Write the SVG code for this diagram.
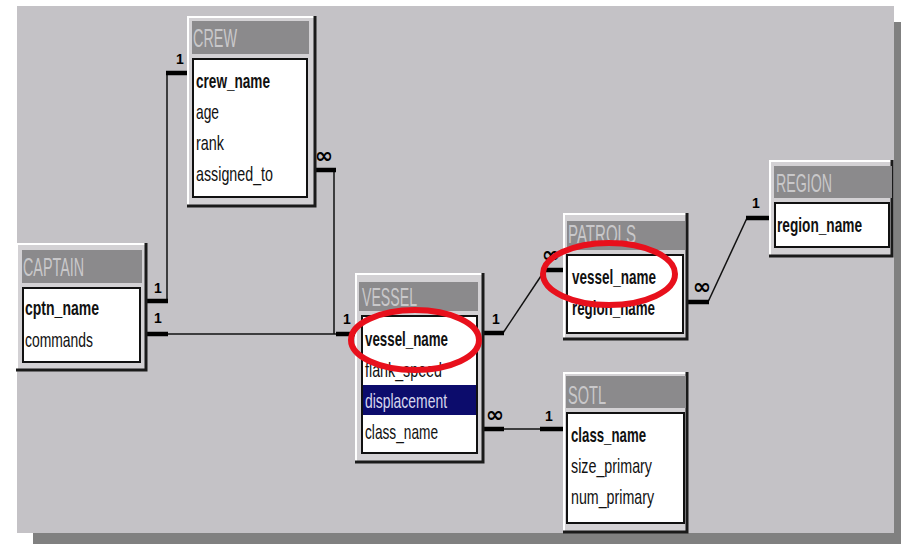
<svg xmlns="http://www.w3.org/2000/svg" width="902" height="544" viewBox="0 0 902 544">
  <style>
    .frame { fill: #d3d1d4; }
    .hi { fill: none; stroke: #ffffff; stroke-width: 2; }
    .lo { fill: none; stroke: #1a1a1a; stroke-width: 3; }
    .bar { fill: #8b8a8c; }
    .title { font-family: "Liberation Sans", Arial, sans-serif; font-size: 25px; fill: #c9c8ca; }
    .list { fill: #ffffff; stroke: #111111; stroke-width: 2; }
    .f { font-family: "Liberation Sans", Arial, sans-serif; font-size: 21px; fill: #111111; }
    .k { font-weight: bold; }
    .sel { fill: #0c0c6c; }
    .selt { fill: #d6d6ee; }
    .wire { fill: none; stroke: #111111; stroke-width: 1.5; }
    .end { fill: none; stroke: #000000; stroke-width: 4.5; }
    .card { font-family: "Liberation Sans", Arial, sans-serif; font-weight: bold; font-size: 14px; fill: #000000; text-anchor: middle; }
    .many { font-family: "DejaVu Sans", sans-serif; font-weight: bold; font-size: 22px; fill: #000000; text-anchor: middle; }
    .ring { fill: none; stroke: #e8101c; stroke-width: 6; }
  </style>

  <!-- workspace panel with drop shadow -->
  <rect x="0" y="0" width="902" height="544" fill="#ffffff"/>
  <rect x="33" y="22" width="868" height="522" fill="#808080"/>
  <rect x="17" y="6" width="877" height="527" fill="#c4c2c6"/>

  <!-- relationship lines -->
  <g id="connectors">
    <!-- CAPTAIN 1 — 1 CREW -->
    <polyline class="wire" points="167,301 167,73"/>
    <line class="end" x1="147" y1="301" x2="168" y2="301"/>
    <line class="end" x1="166" y1="73" x2="188" y2="73"/>
    <text class="card" x="158" y="293">1</text>
    <text class="card" x="180" y="64">1</text>
    <!-- CAPTAIN 1 — 1 VESSEL -->
    <line class="wire" x1="167" y1="334" x2="337" y2="334"/>
    <line class="end" x1="147" y1="334" x2="168" y2="334"/>
    <line class="end" x1="336" y1="334" x2="356" y2="334"/>
    <text class="card" x="158" y="323">1</text>
    <text class="card" x="347" y="324">1</text>
    <!-- CREW ∞ — VESSEL -->
    <polyline class="wire" points="334,170 334,334"/>
    <line class="end" x1="315" y1="170" x2="336" y2="170"/>
    <text class="many" x="324" y="163">∞</text>
    <!-- VESSEL 1 — ∞ PATROLS -->
    <line class="wire" x1="503" y1="333" x2="545" y2="270"/>
    <line class="end" x1="483" y1="333" x2="504" y2="333"/>
    <line class="end" x1="544" y1="270" x2="564" y2="270"/>
    <text class="card" x="496" y="324">1</text>
    <text class="many" x="551" y="262">∞</text>
    <!-- VESSEL ∞ — 1 SOTL -->
    <line class="wire" x1="503" y1="429" x2="541" y2="429"/>
    <line class="end" x1="483" y1="429" x2="504" y2="429"/>
    <line class="end" x1="540" y1="429" x2="564" y2="429"/>
    <text class="many" x="495" y="422">∞</text>
    <text class="card" x="549" y="421">1</text>
    <!-- PATROLS ∞ — 1 REGION -->
    <line class="wire" x1="708" y1="302" x2="747" y2="218"/>
    <line class="end" x1="687" y1="302" x2="709" y2="302"/>
    <line class="end" x1="746" y1="218" x2="770" y2="218"/>
    <text class="many" x="702" y="294">∞</text>
    <text class="card" x="756" y="208">1</text>
  </g>

  <!-- CREW table -->
  <g id="crew">
    <rect class="frame" x="187" y="16" width="129" height="191"/>
    <polyline class="hi" points="188,206 188,17 315,17"/>
    <polyline class="lo" points="315,16 315,206 187,206"/>
    <rect class="bar" x="192" y="21" width="117" height="33"/>
    <text class="title" x="193" y="47" textLength="44" lengthAdjust="spacingAndGlyphs">CREW</text>
    <rect class="list" x="193" y="59" width="114" height="138"/>
    <text class="f k" x="196" y="88" textLength="74" lengthAdjust="spacingAndGlyphs">crew_name</text>
    <text class="f" x="196" y="119" textLength="23" lengthAdjust="spacingAndGlyphs">age</text>
    <text class="f" x="196" y="150" textLength="28" lengthAdjust="spacingAndGlyphs">rank</text>
    <text class="f" x="196" y="181" textLength="77" lengthAdjust="spacingAndGlyphs">assigned_to</text>
  </g>

  <!-- CAPTAIN table -->
  <g id="captain">
    <rect class="frame" x="16" y="243" width="131" height="128"/>
    <polyline class="hi" points="17,370 17,244 146,244"/>
    <polyline class="lo" points="146,243 146,370 16,370"/>
    <rect class="bar" x="22" y="250" width="120" height="33"/>
    <text class="title" x="23" y="276" textLength="61" lengthAdjust="spacingAndGlyphs">CAPTAIN</text>
    <rect class="list" x="23" y="288" width="117" height="74"/>
    <text class="f k" x="25" y="315" textLength="74" lengthAdjust="spacingAndGlyphs">cptn_name</text>
    <text class="f" x="25" y="347" textLength="68" lengthAdjust="spacingAndGlyphs">commands</text>
  </g>

  <!-- VESSEL table -->
  <g id="vessel">
    <rect class="frame" x="355" y="273" width="129" height="190"/>
    <polyline class="hi" points="356,462 356,274 483,274"/>
    <polyline class="lo" points="483,273 483,462 355,462"/>
    <rect class="bar" x="359" y="282" width="119" height="29"/>
    <text class="title" x="362" y="306" textLength="55" lengthAdjust="spacingAndGlyphs">VESSEL</text>
    <rect class="list" x="362" y="316" width="115" height="137"/>
    <rect class="sel" x="363" y="385" width="113" height="30"/>
    <text class="f k" x="365" y="346" textLength="83" lengthAdjust="spacingAndGlyphs">vessel_name</text>
    <text class="f" x="365" y="377" textLength="77" lengthAdjust="spacingAndGlyphs">flank_speed</text>
    <text class="f selt" x="365" y="408" textLength="82" lengthAdjust="spacingAndGlyphs">displacement</text>
    <text class="f" x="365" y="439" textLength="73" lengthAdjust="spacingAndGlyphs">class_name</text>
  </g>

  <!-- PATROLS table -->
  <g id="patrols">
    <rect class="frame" x="563" y="213" width="125" height="127"/>
    <polyline class="hi" points="564,339 564,214 687,214"/>
    <polyline class="lo" points="687,213 687,339 563,339"/>
    <rect class="bar" x="567" y="221" width="118" height="29"/>
    <text class="title" x="568" y="243" textLength="68" lengthAdjust="spacingAndGlyphs">PATROLS</text>
    <rect class="list" x="567" y="255" width="116" height="78"/>
    <text class="f k" x="572" y="284" textLength="84" lengthAdjust="spacingAndGlyphs">vessel_name</text>
    <text class="f k" x="572" y="315" textLength="83" lengthAdjust="spacingAndGlyphs">region_name</text>
  </g>

  <!-- SOTL table -->
  <g id="sotl">
    <rect class="frame" x="563" y="372" width="125" height="161"/>
    <polyline class="hi" points="564,532 564,373 687,373"/>
    <polyline class="lo" points="687,372 687,532 563,532"/>
    <rect class="bar" x="566" y="376" width="120" height="32"/>
    <text class="title" x="568" y="404" textLength="38" lengthAdjust="spacingAndGlyphs">SOTL</text>
    <rect class="list" x="567" y="413" width="117" height="110"/>
    <text class="f k" x="571" y="442" textLength="75" lengthAdjust="spacingAndGlyphs">class_name</text>
    <text class="f" x="571" y="473" textLength="81" lengthAdjust="spacingAndGlyphs">size_primary</text>
    <text class="f" x="571" y="504" textLength="83" lengthAdjust="spacingAndGlyphs">num_primary</text>
  </g>

  <!-- REGION table -->
  <g id="region">
    <rect class="frame" x="769" y="160" width="124" height="97"/>
    <polyline class="hi" points="770,256 770,161 892,161"/>
    <polyline class="lo" points="892,160 892,256 769,256"/>
    <rect class="bar" x="774" y="166" width="118" height="32"/>
    <text class="title" x="776" y="192" textLength="56" lengthAdjust="spacingAndGlyphs">REGION</text>
    <rect class="list" x="775" y="203" width="114" height="44"/>
    <text class="f k" x="777" y="232" textLength="85" lengthAdjust="spacingAndGlyphs">region_name</text>
  </g>

  <!-- highlight rings around the shared key -->
  <g id="marks">
    <ellipse class="ring" cx="415" cy="340" rx="64" ry="30"/>
    <ellipse class="ring" cx="609" cy="274" rx="66" ry="31"/>
  </g>
</svg>
